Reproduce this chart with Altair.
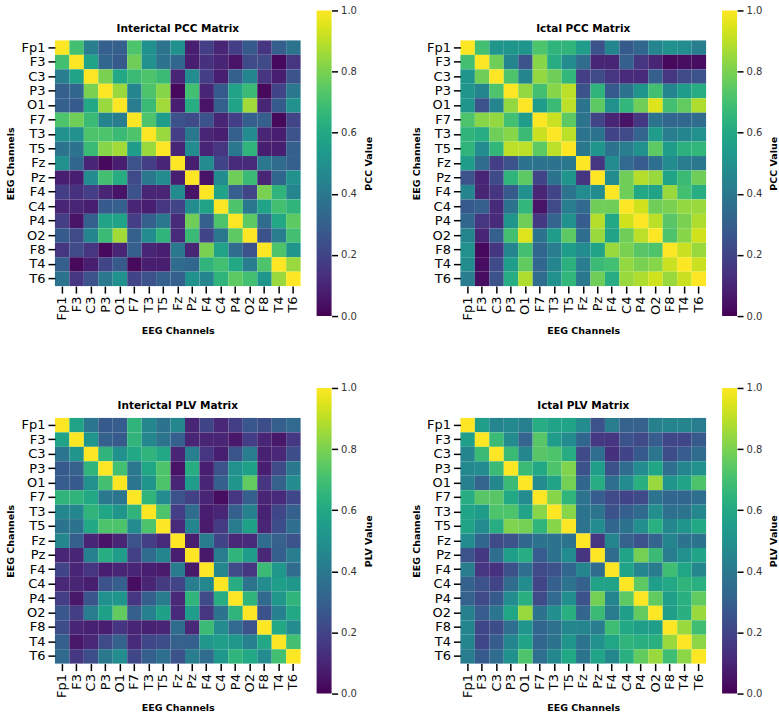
import altair as alt
import numpy as np
import pandas as pd

channels = ["Fp1", "F3", "C3", "P3", "O1", "F7", "T3", "T5", "Fz",
            "Pz", "F4", "C4", "P4", "O2", "F8", "T4", "T6"]

# Upper triangles of the symmetric connectivity matrices:
# row i holds the values for columns i+1 .. 16 (diagonal is 1.0).
interictal_pcc = [
    [0.70, 0.42, 0.30, 0.30, 0.72, 0.50, 0.38, 0.50, 0.08, 0.18, 0.10, 0.18, 0.28, 0.15, 0.30, 0.38],
    [0.58, 0.33, 0.28, 0.78, 0.50, 0.38, 0.33, 0.08, 0.14, 0.10, 0.05, 0.22, 0.22, 0.02, 0.15],
    [0.80, 0.60, 0.68, 0.72, 0.68, 0.10, 0.48, 0.18, 0.08, 0.30, 0.45, 0.15, 0.08, 0.25],
    [0.85, 0.45, 0.72, 0.82, 0.02, 0.70, 0.10, 0.28, 0.58, 0.68, 0.02, 0.20, 0.40],
    [0.42, 0.68, 0.86, 0.08, 0.62, 0.05, 0.30, 0.58, 0.86, 0.10, 0.28, 0.50],
    [0.72, 0.55, 0.25, 0.22, 0.25, 0.10, 0.18, 0.30, 0.30, 0.02, 0.20],
    [0.85, 0.18, 0.40, 0.10, 0.08, 0.30, 0.48, 0.10, 0.08, 0.25],
    [0.10, 0.48, 0.10, 0.15, 0.40, 0.65, 0.08, 0.08, 0.30],
    [0.08, 0.48, 0.20, 0.12, 0.12, 0.40, 0.35, 0.30],
    [0.05, 0.48, 0.78, 0.68, 0.10, 0.33, 0.50],
    [0.58, 0.30, 0.20, 0.80, 0.65, 0.45],
    [0.72, 0.40, 0.58, 0.70, 0.65],
    [0.75, 0.35, 0.60, 0.75],
    [0.25, 0.42, 0.70],
    [0.72, 0.52],
    [0.85],
]

ictal_pcc = [
    [0.70, 0.52, 0.52, 0.52, 0.72, 0.65, 0.65, 0.55, 0.25, 0.45, 0.28, 0.33, 0.45, 0.50, 0.48, 0.42],
    [0.78, 0.45, 0.25, 0.82, 0.62, 0.48, 0.35, 0.10, 0.10, 0.30, 0.15, 0.10, 0.02, 0.03, 0.03],
    [0.72, 0.45, 0.84, 0.78, 0.66, 0.18, 0.22, 0.15, 0.12, 0.12, 0.30, 0.15, 0.22, 0.25],
    [0.84, 0.70, 0.82, 0.90, 0.25, 0.65, 0.28, 0.38, 0.52, 0.70, 0.45, 0.55, 0.62],
    [0.55, 0.68, 0.90, 0.38, 0.75, 0.50, 0.66, 0.78, 0.95, 0.70, 0.76, 0.88],
    [0.92, 0.75, 0.38, 0.20, 0.10, 0.05, 0.16, 0.38, 0.33, 0.33, 0.35],
    [0.90, 0.38, 0.38, 0.20, 0.22, 0.32, 0.55, 0.42, 0.45, 0.50],
    [0.40, 0.52, 0.38, 0.42, 0.50, 0.75, 0.55, 0.64, 0.66],
    [0.15, 0.48, 0.34, 0.29, 0.36, 0.48, 0.42, 0.40],
    [0.48, 0.78, 0.89, 0.85, 0.58, 0.68, 0.78],
    [0.78, 0.60, 0.58, 0.85, 0.70, 0.62],
    [0.93, 0.78, 0.80, 0.84, 0.85],
    [0.90, 0.74, 0.80, 0.88],
    [0.72, 0.82, 0.93],
    [0.92, 0.85],
    [0.92],
]

interictal_plv = [
    [0.58, 0.39, 0.28, 0.29, 0.65, 0.46, 0.38, 0.46, 0.10, 0.20, 0.11, 0.18, 0.27, 0.23, 0.30, 0.34],
    [0.52, 0.31, 0.28, 0.65, 0.46, 0.38, 0.30, 0.10, 0.10, 0.10, 0.06, 0.18, 0.10, 0.06, 0.16],
    [0.65, 0.50, 0.60, 0.65, 0.60, 0.10, 0.43, 0.15, 0.08, 0.26, 0.42, 0.09, 0.11, 0.23],
    [0.70, 0.40, 0.59, 0.72, 0.05, 0.62, 0.08, 0.25, 0.50, 0.57, 0.08, 0.22, 0.40],
    [0.39, 0.52, 0.72, 0.10, 0.55, 0.10, 0.30, 0.52, 0.76, 0.15, 0.31, 0.48],
    [0.65, 0.48, 0.25, 0.19, 0.10, 0.03, 0.15, 0.30, 0.10, 0.12, 0.21],
    [0.72, 0.18, 0.35, 0.08, 0.10, 0.30, 0.43, 0.09, 0.21, 0.30],
    [0.12, 0.45, 0.07, 0.17, 0.41, 0.57, 0.10, 0.23, 0.36],
    [0.08, 0.41, 0.20, 0.11, 0.12, 0.35, 0.31, 0.25],
    [0.06, 0.42, 0.65, 0.55, 0.11, 0.30, 0.42],
    [0.46, 0.22, 0.15, 0.68, 0.53, 0.35],
    [0.62, 0.38, 0.48, 0.56, 0.53],
    [0.65, 0.34, 0.53, 0.65],
    [0.25, 0.43, 0.60],
    [0.60, 0.48],
    [0.70],
]

ictal_plv = [
    [0.56, 0.45, 0.47, 0.43, 0.62, 0.58, 0.58, 0.48, 0.25, 0.42, 0.31, 0.31, 0.43, 0.45, 0.45, 0.42],
    [0.68, 0.48, 0.32, 0.74, 0.55, 0.48, 0.33, 0.16, 0.15, 0.25, 0.22, 0.29, 0.21, 0.21, 0.28],
    [0.68, 0.46, 0.74, 0.72, 0.62, 0.22, 0.36, 0.14, 0.20, 0.28, 0.39, 0.23, 0.29, 0.35],
    [0.68, 0.60, 0.72, 0.81, 0.25, 0.56, 0.24, 0.35, 0.48, 0.59, 0.36, 0.45, 0.50],
    [0.48, 0.58, 0.79, 0.33, 0.62, 0.36, 0.48, 0.63, 0.85, 0.52, 0.58, 0.72],
    [0.82, 0.65, 0.38, 0.29, 0.22, 0.20, 0.22, 0.38, 0.33, 0.33, 0.36],
    [0.82, 0.38, 0.38, 0.25, 0.30, 0.34, 0.49, 0.37, 0.38, 0.46],
    [0.38, 0.48, 0.33, 0.38, 0.49, 0.63, 0.46, 0.52, 0.60],
    [0.15, 0.45, 0.31, 0.25, 0.32, 0.45, 0.38, 0.38],
    [0.35, 0.58, 0.79, 0.68, 0.42, 0.50, 0.58],
    [0.58, 0.45, 0.41, 0.69, 0.59, 0.46],
    [0.75, 0.56, 0.60, 0.65, 0.63],
    [0.76, 0.56, 0.63, 0.76],
    [0.56, 0.63, 0.85],
    [0.85, 0.69],
    [0.83],
]

colorbar_ticks = [0.0, 0.2, 0.4, 0.6, 0.8, 1.0]

FONT = "DejaVu Sans"
SIDE = 246          # heatmap plot area, px
BAR_GAP = 16        # gap between heatmap and colour bar
BAR_WIDTH = 15
BAR_OVERHANG = 30   # colour bar extends this far above and below the heatmap


def to_long(upper):
    n = len(channels)
    m = np.eye(n)
    for i, row in enumerate(upper):
        for k, v in enumerate(row):
            j = i + 1 + k
            m[i, j] = v
            m[j, i] = v
    return pd.DataFrame(
        [{"row": channels[i], "col": channels[j], "value": float(m[i, j])}
         for i in range(n) for j in range(n)]
    )


def panel(upper, title, bar_title):
    base = alt.Chart(to_long(upper))

    cells = base.mark_rect().encode(
        x=alt.X("col:N", sort=channels, title="EEG Channels",
                axis=alt.Axis(labelAngle=270)),
        y=alt.Y("row:N", sort=channels, title="EEG Channels"),
        color=alt.Color(
            "value:Q",
            scale=alt.Scale(scheme="viridis", domain=[0, 1]),
            legend=alt.Legend(
                title=None,
                orient="none",
                direction="vertical",
                legendX=SIDE + BAR_GAP,
                legendY=-BAR_OVERHANG,
                gradientLength=SIDE + 2 * BAR_OVERHANG,
                gradientThickness=BAR_WIDTH,
                gradientStrokeWidth=0,
                values=colorbar_ticks,
                labelExpr="''",
            ),
        ),
    )

    # value axis drawn alongside the colour bar (ticks, labels, title)
    bar_axis = base.mark_point(opacity=0).encode(
        y=alt.Y(
            "value:Q",
            scale=alt.Scale(domain=[0, 1],
                            range=[SIDE + BAR_OVERHANG, -BAR_OVERHANG]),
            axis=alt.Axis(
                orient="right",
                offset=BAR_GAP + BAR_WIDTH,
                values=colorbar_ticks,
                format=".1f",
                grid=False,
                domain=False,
                tickSize=6,
                tickWidth=1.5,
                tickColor="black",
                labelFontSize=10,
                labelColor="#333333",
                labelPadding=3,
                title=bar_title,
                titleAngle=270,
                titleBaseline="top",
                titlePadding=7,
                titleFontSize=9.5,
            ),
        )
    )

    return (
        alt.layer(cells, bar_axis)
        .resolve_scale(y="independent")
        .properties(
            width=SIDE,
            height=SIDE,
            title=alt.Title(title, fontSize=10.5, fontWeight="bold",
                            font=FONT, color="black", offset=8, dy=37),
        )
    )


chart = (
    alt.concat(
        panel(interictal_pcc, "Interictal PCC Matrix", "PCC Value"),
        panel(ictal_pcc, "Ictal PCC Matrix", "PCC Value"),
        panel(interictal_plv, "Interictal PLV Matrix", "PLV Value"),
        panel(ictal_plv, "Ictal PLV Matrix", "PLV Value"),
        columns=2,
        spacing={"row": 132, "column": 160},
        bounds="flush",
    )
    .resolve_scale(color="independent")
    .properties(padding={"left": 5, "top": 5, "right": 0, "bottom": 0})
    .configure_view(stroke=None)
    .configure_axis(
        domain=False,
        ticks=True,
        tickColor="black",
        tickWidth=1.5,
        tickSize=7,
        labelFont=FONT,
        labelFontSize=13,
        labelColor="black",
        labelPadding=3,
        titleFont=FONT,
        titleFontSize=9.5,
        titleFontWeight="bold",
        titleColor="black",
        titlePadding=5,
    )
)

chart.save("out.html", embed_options={"renderer": "svg", "actions": False})
